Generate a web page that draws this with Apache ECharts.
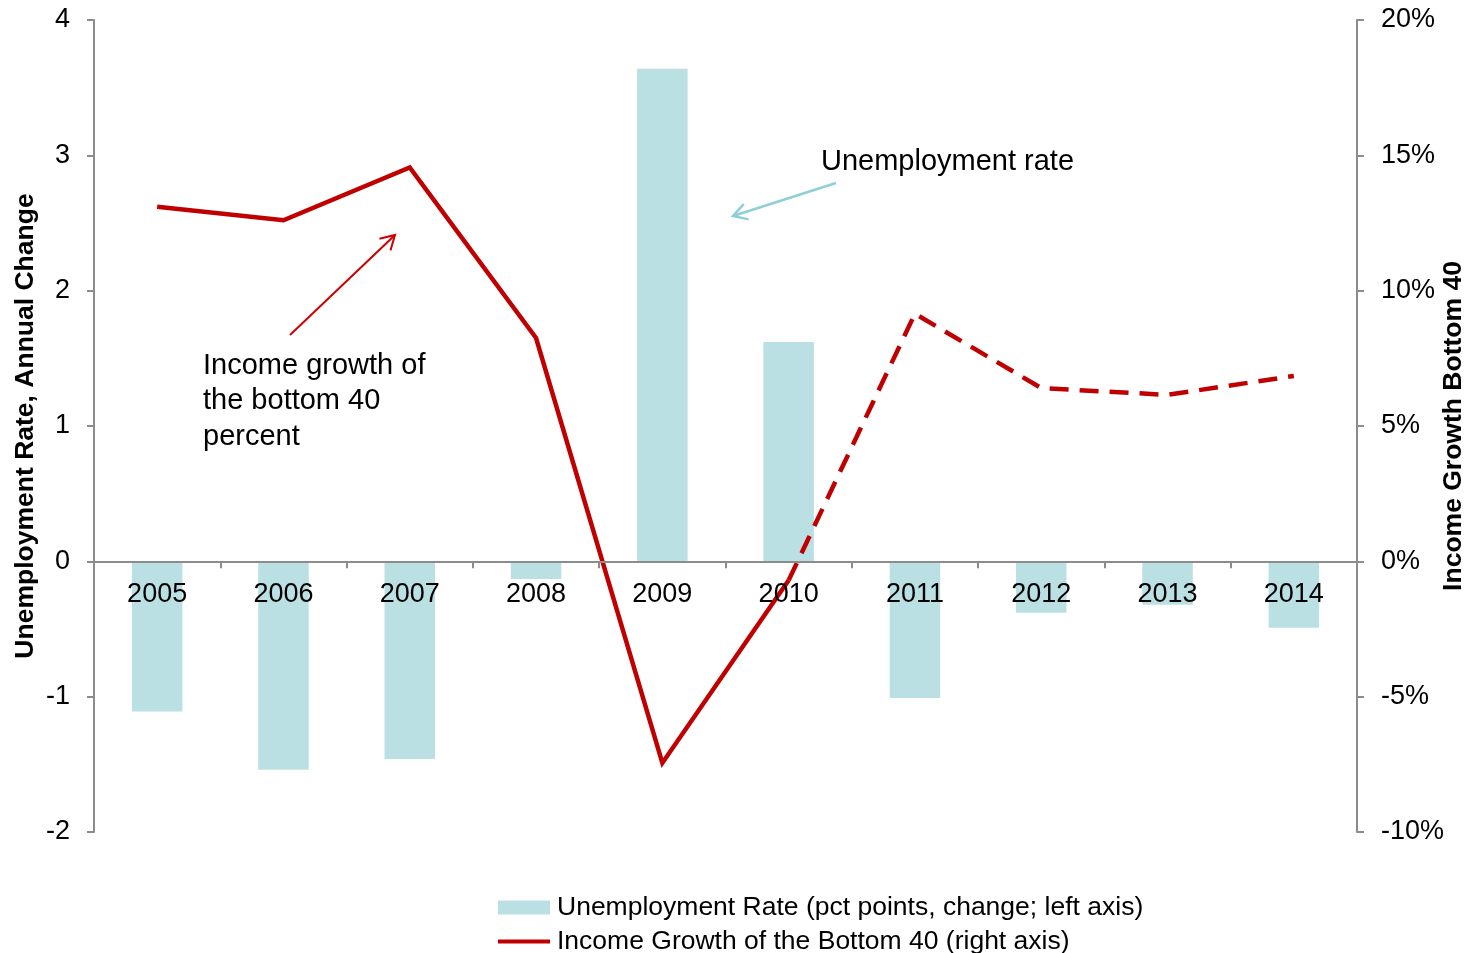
<!DOCTYPE html>
<html>
<head>
<meta charset="utf-8">
<title>Unemployment and Income Growth of the Bottom 40</title>
<script src="https://cdn.jsdelivr.net/npm/echarts@6/dist/echarts.min.js"></script>
<style>
  html, body { margin: 0; padding: 0; background: #ffffff; }
  #chart { width: 1470px; height: 953px; }
</style>
</head>
<body>
<div id="chart"></div>
<script>
// Years on the category axis
const years = ['2005', '2006', '2007', '2008', '2009', '2010', '2011', '2012', '2013', '2014'];

// Change in unemployment rate, percentage points (left axis)
const unemploymentChange = [-1.11, -1.54, -1.46, -0.13, 3.64, 1.62, -1.01, -0.38, -0.32, -0.49];

// Income growth of the bottom 40 percent, % (right axis)
// Observed years drawn solid, later years drawn dashed.
const incomeGrowthSolid  = [13.1, 12.6, 14.55, 8.25, -7.45, -0.7, null, null, null, null];
const incomeGrowthDashed = [null, null, null, null, null, -0.7, 9.15, 6.4, 6.15, 6.85];

// Axis tick settings
const leftTicks = { min: -2, max: 4, interval: 1 };
const rightTicks = { min: -10, max: 20, interval: 5 };

const BAR_NAME = 'Unemployment Rate (pct points, change; left axis)';
const LINE_NAME = 'Income Growth of the Bottom 40 (right axis)';

const FONT = '"Liberation Sans", Arial, sans-serif';
const BAR_COLOR = '#BBE0E3';
const LINE_COLOR = '#C00000';
const AXIS_COLOR = '#8C8C8C';

// Plot area
const GRID = { left: 94, right: 113, top: 20, bottom: 121 };
const plotHeight = 953 - GRID.top - GRID.bottom;
// Lift the category axis from the bottom edge up to the zero line of the left axis
const zeroOffset = plotHeight * (0 - leftTicks.min) / (leftTicks.max - leftTicks.min);

// Open "V" arrowhead built from two short strokes
function arrow(x1, y1, x2, y2, color, width, headLen) {
  const ang = Math.atan2(y2 - y1, x2 - x1);
  const spread = Math.PI / 6;
  const a = [x2 - headLen * Math.cos(ang - spread), y2 - headLen * Math.sin(ang - spread)];
  const b = [x2 - headLen * Math.cos(ang + spread), y2 - headLen * Math.sin(ang + spread)];
  return {
    type: 'group',
    children: [
      { type: 'line', shape: { x1, y1, x2, y2 }, style: { stroke: color, lineWidth: width } },
      { type: 'polyline', shape: { points: [a, [x2, y2], b] }, style: { stroke: color, lineWidth: width, fill: null } }
    ]
  };
}

// One legend row per series, stacked under the plot
function legendRow(top, item) {
  return {
    orient: 'horizontal',
    left: 498,
    top: top,
    itemWidth: 52,
    itemHeight: 14,
    padding: 0,
    textStyle: { fontFamily: FONT, fontSize: 26.5, color: '#000', padding: [0, 0, 0, 2] },
    data: [item]
  };
}

const chart = echarts.init(document.getElementById('chart'));

chart.setOption({
  backgroundColor: '#ffffff',
  animation: false,
  textStyle: { fontFamily: FONT, color: '#000' },
  grid: {
    left: GRID.left, right: GRID.right, top: GRID.top, bottom: GRID.bottom,
    containLabel: false,
    outerBoundsMode: 'none'
  },
  legend: [
    legendRow(894, { name: BAR_NAME, icon: 'rect' }),
    legendRow(928, {
      name: LINE_NAME,
      icon: 'path://M0,0 L52,0 L52,4 L0,4 Z',
      itemStyle: { color: LINE_COLOR }
    })
  ],
  xAxis: {
    type: 'category',
    data: years,
    z: 5,
    offset: -zeroOffset,
    axisLine: { onZero: false, lineStyle: { color: AXIS_COLOR, width: 2 } },
    axisTick: { show: true, length: 7, lineStyle: { color: AXIS_COLOR, width: 2 } },
    axisLabel: { fontFamily: FONT, fontSize: 27, color: '#000', margin: 20 },
    splitLine: { show: false }
  },
  yAxis: [
    {
      type: 'value',
      min: leftTicks.min,
      max: leftTicks.max,
      interval: leftTicks.interval,
      name: 'Unemployment Rate, Annual Change',
      nameLocation: 'middle',
      nameGap: 55,
      nameMoveOverlap: false,
      nameTextStyle: { fontFamily: FONT, fontSize: 26.5, fontWeight: 'bold', color: '#000' },
      axisLine: { show: true, lineStyle: { color: AXIS_COLOR, width: 2 } },
      axisTick: { show: true, length: 7, lineStyle: { color: AXIS_COLOR, width: 2 } },
      axisLabel: { fontFamily: FONT, fontSize: 27, color: '#000', margin: 24 },
      splitLine: { show: false }
    },
    {
      type: 'value',
      min: rightTicks.min,
      max: rightTicks.max,
      interval: rightTicks.interval,
      name: 'Income Growth Bottom 40',
      nameLocation: 'middle',
      nameGap: 83,
      nameRotate: 90,
      nameMoveOverlap: false,
      nameTextStyle: { fontFamily: FONT, fontSize: 26.5, fontWeight: 'bold', color: '#000' },
      axisLine: { show: true, lineStyle: { color: AXIS_COLOR, width: 2 } },
      axisTick: { show: true, length: 7, lineStyle: { color: AXIS_COLOR, width: 2 } },
      axisLabel: { fontFamily: FONT, fontSize: 27, color: '#000', margin: 24, formatter: '{value}%' },
      splitLine: { show: false }
    }
  ],
  series: [
    {
      name: BAR_NAME,
      type: 'bar',
      yAxisIndex: 0,
      data: unemploymentChange,
      barWidth: '40%',
      itemStyle: { color: BAR_COLOR }
    },
    {
      name: LINE_NAME,
      type: 'line',
      yAxisIndex: 1,
      data: incomeGrowthSolid,
      symbol: 'none',
      connectNulls: false,
      z: 4,
      lineStyle: { color: LINE_COLOR, width: 4.5, join: 'miter' },
      itemStyle: { color: LINE_COLOR }
    },
    {
      name: 'Income Growth (later years)',
      type: 'line',
      yAxisIndex: 1,
      data: incomeGrowthDashed,
      symbol: 'none',
      connectNulls: false,
      z: 4,
      lineStyle: { color: LINE_COLOR, width: 4.5, type: [19, 11] },
      itemStyle: { color: LINE_COLOR }
    }
  ],
  graphic: [
    {
      type: 'text',
      left: 821,
      top: 147,
      style: { text: 'Unemployment rate', font: '29px ' + FONT, fill: '#000' }
    },
    arrow(836, 183, 733, 216, '#8FCFD6', 2.5, 16),
    {
      type: 'text',
      left: 203,
      top: 348,
      style: {
        text: 'Income growth of\nthe bottom 40\npercent',
        font: '29px ' + FONT,
        lineHeight: 35.5,
        fill: '#000'
      }
    },
    arrow(290, 335, 395, 235, '#CC0000', 2, 16)
  ]
});
</script>
</body>
</html>
